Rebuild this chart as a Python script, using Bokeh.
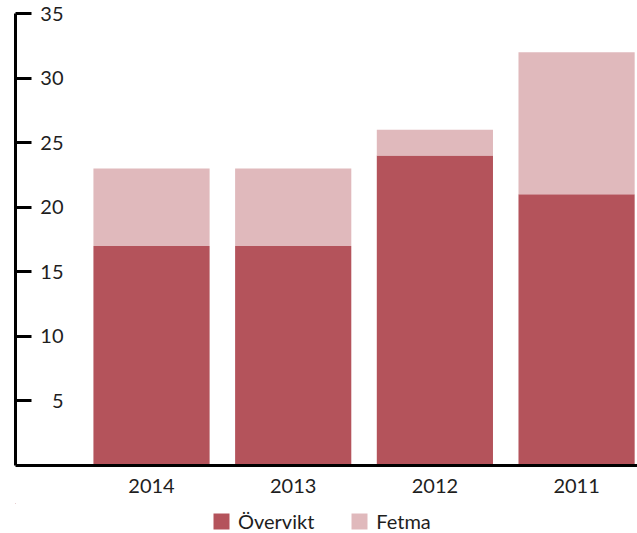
from bokeh.plotting import figure
from bokeh.layouts import column
from bokeh.models import ColumnDataSource, FixedTicker, Range1d, Legend, LegendItem
from bokeh.embed import file_html
from bokeh.resources import INLINE

years = ["2014", "2013", "2012", "2011"]
overvikt = [17, 17, 24, 21]
fetma = [6, 6, 2, 11]
y_ticks = [5, 10, 15, 20, 25, 30, 35]
series = ["Övervikt", "Fetma"]
colors = ["#b4535b", "#e0b9bc"]

FONT = "Lato"
TXT = "#1e1e1e"
x = list(range(len(years)))
src = ColumnDataSource(dict(x=x, year=years, ov=overvikt, fe=fetma))

p = figure(width=637, height=503, x_range=Range1d(-0.96, 3.43), y_range=Range1d(0, 35),
           output_backend="svg", toolbar_location=None,
           min_border_left=15, min_border_right=0, min_border_top=13, min_border_bottom=38)

rs = p.vbar_stack(["ov", "fe"], x="x", width=0.82, color=colors, line_width=0, source=src)

p.xgrid.visible = False
p.ygrid.visible = False
p.outline_line_color = None

xa = p.xaxis[0]
xa.ticker = FixedTicker(ticks=x)
xa.major_label_overrides = {i: y for i, y in zip(x, years)}
xa.major_tick_in = 0
xa.major_tick_out = 0
xa.axis_line_width = 3
xa.axis_line_color = "black"
xa.major_label_standoff = 13
xa.major_label_text_font = FONT
xa.major_label_text_font_size = "20px"
xa.major_label_text_color = TXT

ya = p.yaxis[0]
ya.ticker = FixedTicker(ticks=y_ticks)
ya.major_tick_in = 16
ya.major_tick_out = 0
ya.minor_tick_in = 0
ya.minor_tick_out = 0
ya.major_tick_line_width = 3
ya.axis_line_width = 3
ya.axis_line_color = "black"
ya.major_label_standoff = -48
ya.major_label_text_font = FONT
ya.major_label_text_font_size = "20px"
ya.major_label_text_color = TXT

# legend strip below the chart
p2 = figure(width=637, height=30, x_range=Range1d(10, 11), y_range=Range1d(-2, -1),
            output_backend="svg", toolbar_location=None, outline_line_color=None,
            min_border_left=0, min_border_right=0, min_border_top=0, min_border_bottom=0)
p2.axis.visible = False
p2.xgrid.visible = False
p2.ygrid.visible = False
rs2 = p2.vbar_stack(["ov", "fe"], x="x", width=0.82, color=colors, line_width=0, source=src)

legend = Legend(items=[LegendItem(label=s, renderers=[r]) for s, r in zip(series, rs2)],
                orientation="horizontal", location=(196, 0),
                glyph_width=20, glyph_height=20, label_standoff=7, spacing=35,
                label_text_font=FONT, label_text_font_size="20px", label_text_color=TXT,
                border_line_color=None, background_fill_alpha=0, padding=0, margin=0)
p2.add_layout(legend)

open("out.html", "w").write(file_html(column(p, p2, spacing=0), INLINE))
